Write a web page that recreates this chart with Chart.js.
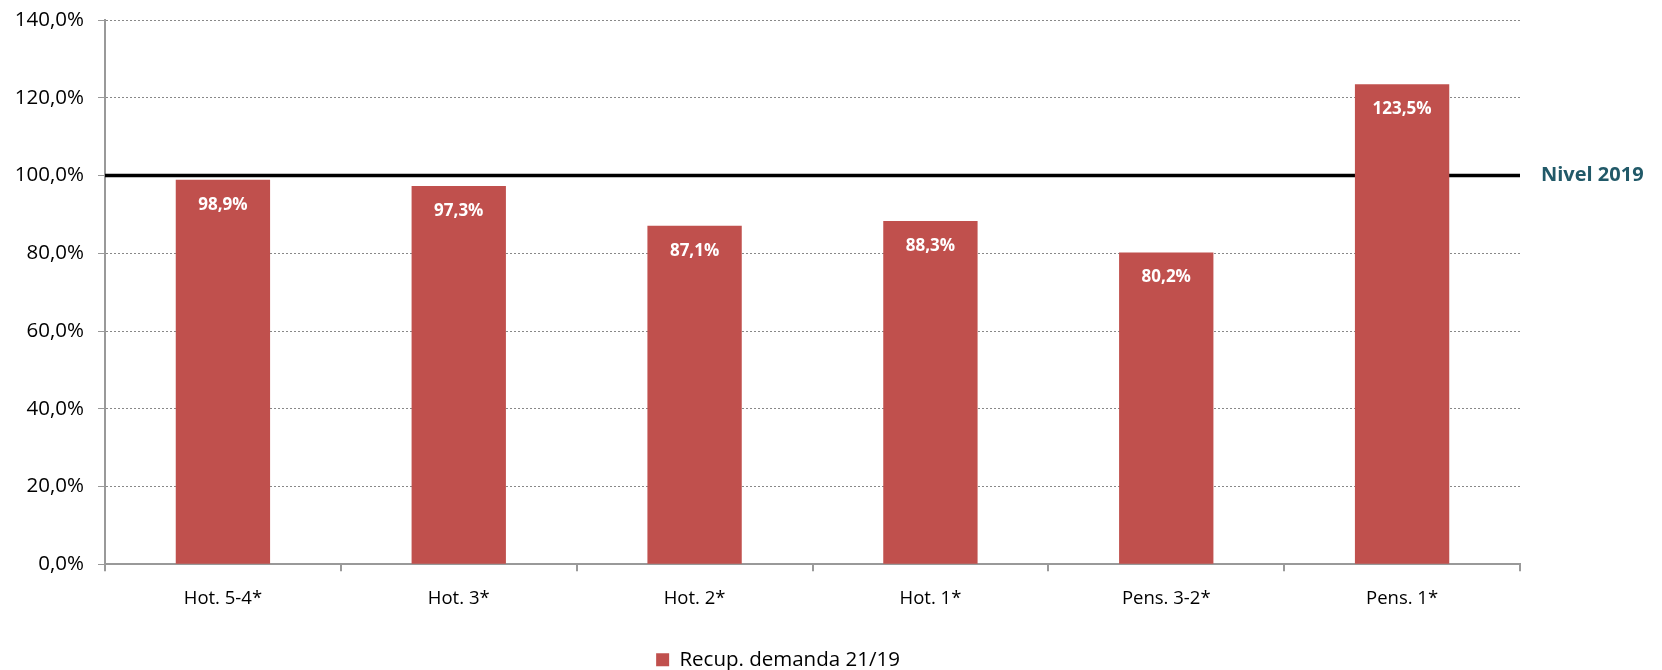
<!DOCTYPE html>
<html>
<head>
<meta charset="utf-8">
<script src="https://cdn.jsdelivr.net/npm/chart.js@4/dist/chart.umd.min.js"></script>
<style>
  body { margin: 0; background: #fff; }
  #wrap { width: 1662px; height: 670px; }
</style>
</head>
<body>
<div id="wrap"><canvas id="recupChart"></canvas></div>
<script>
// categories and values
var categories = ["Hot. 5-4*", "Hot. 3*", "Hot. 2*", "Hot. 1*", "Pens. 3-2*", "Pens. 1*"];
var recupValues = [98.9, 97.3, 87.1, 88.3, 80.2, 123.5];
var seriesName = "Recup. demanda 21/19";
var refLevel = 100;
var refLabel = "Nivel 2019";

var FONT = "'Open Sans', sans-serif";

function fmtPct(v) {
  return Number(v).toFixed(1).replace('.', ',') + '%';
}

//Thick black line at the 2019 level, drawn behind the bars
var refLinePlugin = {
  id: 'refLine',
  beforeDatasetsDraw: function (chart) {
    var ctx = chart.ctx, area = chart.chartArea;
    var y = chart.scales.y.getPixelForValue(refLevel);
    ctx.save();
    ctx.strokeStyle = '#000';
    ctx.lineWidth = 3.5;
    ctx.beginPath();
    ctx.moveTo(area.left, y);
    ctx.lineTo(area.right, y);
    ctx.stroke();
    ctx.fillStyle = '#215968';
    ctx.font = 'bold 20px ' + FONT;
    ctx.textBaseline = 'middle';
    ctx.textAlign = 'left';
    ctx.fillText(refLabel, area.right + 21, y);
    ctx.restore();
  }
};

//White value labels inside the top of each bar
var barLabelPlugin = {
  id: 'barLabels',
  afterDatasetsDraw: function (chart) {
    var ctx = chart.ctx;
    var meta = chart.getDatasetMeta(0);
    ctx.save();
    ctx.fillStyle = '#fff';
    ctx.font = 'bold 17px ' + FONT;
    ctx.textAlign = 'center';
    ctx.textBaseline = 'middle';
    meta.data.forEach(function (bar, i) {
      ctx.fillText(fmtPct(recupValues[i]), bar.x, bar.y + 25);
    });
    ctx.restore();
  }
};

//Legend sits a bit right of centre in the original
var legendShift = {
  id: 'legendShift',
  afterLayout: function (chart) {
    chart.legend.left += 18;
    chart.legend.right += 18;
  }
};

var recupChart = new Chart(document.getElementById('recupChart'), {
  type: 'bar',
  data: {
    labels: categories,
    datasets: [{
      label: seriesName,
      data: recupValues,
      backgroundColor: '#C0504D',
      borderWidth: 0,
      categoryPercentage: 1.0,
      barPercentage: 0.4
    }]
  },
  options: {
    responsive: true,
    maintainAspectRatio: false,
    animation: false,
    layout: { padding: { left: 0, right: 142, top: 20, bottom: -10 } },
    plugins: {
      tooltip: { enabled: false },
      legend: {
        position: 'bottom',
        labels: {
          color: '#000',
          font: { family: FONT, size: 20.5 },
          boxWidth: 13,
          boxHeight: 13,
          padding: 0
        }
      }
    },
    scales: {
      x: {
        afterFit: function (scale) { scale.height += 24; },
        border: { color: '#999', width: 2 },
        grid: { offset: true, drawOnChartArea: false, drawTicks: true, tickLength: 7, color: '#999', lineWidth: 2 },
        ticks: { color: '#000', font: { family: FONT, size: 18.5 }, padding: 16 }
      },
      y: {
        min: 0,
        max: 140,
        afterFit: function (scale) { scale.width = 105; scale.paddingTop = 0; },
        border: { color: '#999', width: 2, dash: [2, 2] },
        grid: {
          color: '#888',
          lineWidth: 1,
          tickLength: 7,
          tickColor: '#999'
        },
        ticks: {
          stepSize: 20,
          color: '#000',
          font: { family: FONT, size: 20.5 },
          padding: 14,
          callback: function (v) { return fmtPct(v); }
        }
      }
    }
  },
  plugins: [refLinePlugin, barLabelPlugin, legendShift]
});
</script>
</body>
</html>
